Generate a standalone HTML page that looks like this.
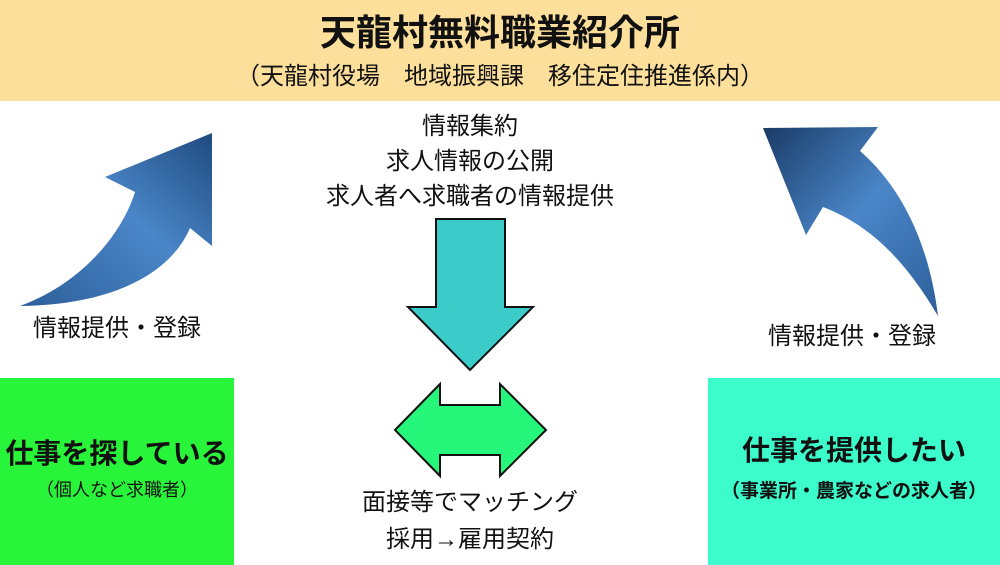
<!DOCTYPE html>
<html><head><meta charset="utf-8"><style>
body{margin:0;width:1000px;height:565px;position:relative;background:#fff;font-family:"Liberation Sans","Noto Sans CJK JP",sans-serif;overflow:hidden}
.t{position:absolute;white-space:nowrap;color:#111}
</style></head><body>
<div style="position:absolute;left:0;top:0;width:1000px;height:101px;background:#fddf9c"></div>
<div class="t" style="left:0;width:1000px;text-align:center;top:10px;font-size:36px;line-height:46px;font-weight:bold">天龍村無料職業紹介所</div>
<div class="t" style="left:0;width:1000px;text-align:center;top:61px;font-size:24px;line-height:32px">（天龍村役場　地域振興課　移住定住推進係内）</div>
<div class="t" style="left:0;width:940px;text-align:center;top:109px;font-size:24px;line-height:35px">情報集約<br>求人情報の公開<br>求人者へ求職者の情報提供</div>
<div class="t" style="left:33px;top:312px;font-size:24px;line-height:34px">情報提供・登録</div>
<div class="t" style="left:768px;top:320px;font-size:24px;line-height:34px">情報提供・登録</div>
<div style="position:absolute;left:0;top:378px;width:234px;height:187px;background:#28f43a"></div>
<div style="position:absolute;left:708px;top:378px;width:292px;height:187px;background:#3dfccb"></div>
<div class="t" style="left:0;width:234px;text-align:center;top:435px;font-size:28px;line-height:38px;font-weight:bold">仕事を探している</div>
<div class="t" style="left:0;width:234px;text-align:center;top:477px;font-size:18px;line-height:26px">（個人など求職者）</div>
<div class="t" style="left:708px;width:292px;text-align:center;top:432px;font-size:28px;line-height:38px;font-weight:bold">仕事を提供したい</div>
<div class="t" style="left:708px;width:292px;text-align:center;top:479px;font-size:19px;line-height:26px;font-weight:bold">（事業所・農家などの求人者）</div>
<div class="t" style="left:0;width:940px;text-align:center;top:484px;font-size:24px;line-height:37px">面接等でマッチング<br>採用→雇用契約</div>
<svg width="1000" height="565" style="position:absolute;left:0;top:0">
<defs>
<linearGradient id="g1" x1="0" y1="1" x2="1" y2="0"><stop offset="0" stop-color="#2d5f9a"/><stop offset=".55" stop-color="#4a86c8"/><stop offset="1" stop-color="#1f4a7e"/></linearGradient>
<linearGradient id="g2" x1="1" y1="1" x2="0" y2="0"><stop offset="0" stop-color="#2d5f9a"/><stop offset=".5" stop-color="#4a86c8"/><stop offset="1" stop-color="#1a3a66"/></linearGradient>
</defs>
<path d="M20,306 C90,280 125,225 135,192 L105,177 L212,133 L212,246 L190,228 C170,275 110,305 20,306 Z" fill="url(#g1)"/>
<path d="M763,128 L878,127 L860,151 C905,190 930,250 938,316 C905,260 870,225 823,207 L806,235 Z" fill="url(#g2)"/>
<polygon points="436,219 505,219 505,307 533,307 470,370 408,307 436,307" fill="#3bcbc9" stroke="#111" stroke-width="2"/>
<polygon points="395,430 440,384 440,405 500,405 500,384 546,430 500,476 500,455 440,455 440,476" fill="#26f77a" stroke="#111" stroke-width="2"/>
</svg>
</body></html>
